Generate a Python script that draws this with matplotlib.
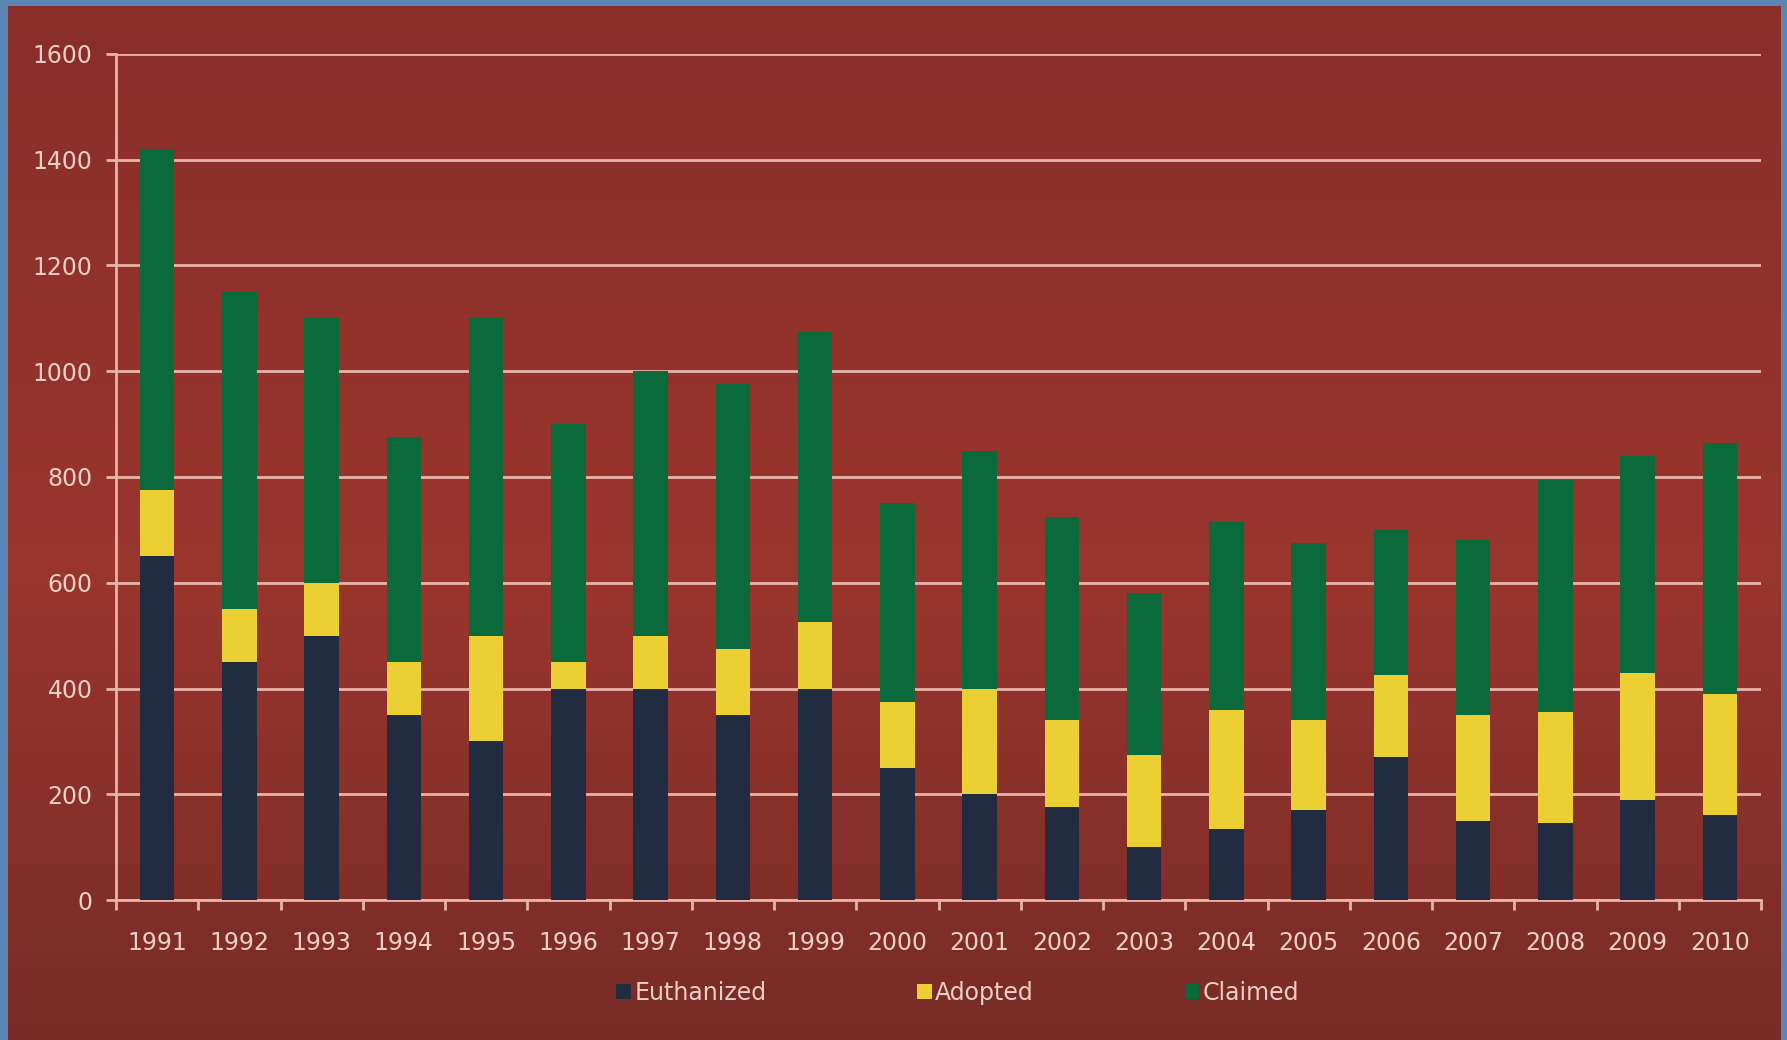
import matplotlib.pyplot as plt
import numpy as np

# data
years = ['1991', '1992', '1993', '1994', '1995', '1996', '1997', '1998', '1999', '2000',
         '2001', '2002', '2003', '2004', '2005', '2006', '2007', '2008', '2009', '2010']
euthanized = [650, 450, 500, 350, 300, 400, 400, 350, 400, 250,
              200, 175, 100, 135, 170, 270, 150, 145, 190, 160]
adopted = [125, 100, 100, 100, 200, 50, 100, 125, 125, 125,
           200, 165, 175, 225, 170, 155, 200, 210, 240, 230]
claimed = [645, 600, 500, 425, 600, 450, 500, 500, 550, 375,
           450, 385, 305, 355, 335, 275, 330, 440, 410, 475]
yticks = [0, 200, 400, 600, 800, 1000, 1200, 1400, 1600]

txt_col = '#f2cfc6'
grid_col = '#e8b4aa'

fig = plt.figure(figsize=(17.87, 10.40), dpi=100, facecolor='#5b87b6')

# red slide panel with a soft vertical gradient
bg = fig.add_axes([8 / 1787, 0, 1772 / 1787, 1034 / 1040])
grad = np.linspace(0, 1, 256)
top = np.array([0.54, 0.18, 0.16])
mid = np.array([0.60, 0.21, 0.18])
bot = np.array([0.47, 0.17, 0.15])
cols = np.where(grad[:, None] < 0.55,
                top + (mid - top) * (grad[:, None] / 0.55),
                mid + (bot - mid) * ((grad[:, None] - 0.55) / 0.45))
bg.imshow(cols[:, None, :].repeat(4, axis=1), aspect='auto', extent=[0, 1, 0, 1])
bg.axis('off')

ax = fig.add_axes([116 / 1787, 140 / 1040, 1645 / 1787, 846 / 1040])
ax.set_facecolor('none')

idx = np.arange(len(years))
w = 0.42
b1 = ax.bar(idx, euthanized, w, color='#222c40', zorder=3, label='Euthanized')
bottom2 = np.array(euthanized)
b2 = ax.bar(idx, adopted, w, bottom=bottom2, color='#ecd033', zorder=3, label='Adopted')
bottom3 = bottom2 + np.array(adopted)
b3 = ax.bar(idx, claimed, w, bottom=bottom3, color='#0a6a3c', zorder=3, label='Claimed')

ax.set_xlim(-0.5, len(years) - 0.5)
ax.set_ylim(0, 1600)
ax.set_yticks(yticks)
ax.set_xticks(idx)
ax.set_xticklabels(years)
ax.set_xticks(np.arange(-0.5, len(years)), minor=True)
ax.yaxis.grid(True, color=grid_col, lw=2, zorder=1)
ax.set_axisbelow(True)

for s in ['top', 'right']:
    ax.spines[s].set_visible(False)
for s in ['left', 'bottom']:
    ax.spines[s].set_color(grid_col)
    ax.spines[s].set_linewidth(2)

ax.tick_params(axis='x', which='major', length=0, pad=22, labelsize=17, labelcolor=txt_col)
ax.tick_params(axis='x', which='minor', length=7, width=2, color=grid_col)
ax.tick_params(axis='y', length=7, width=2, color=grid_col, pad=10,
               labelsize=17, labelcolor=txt_col)

leg = fig.legend(handles=[b1, b2, b3], loc='center', bbox_to_anchor=(0.536, 0.045),
                 ncol=3, frameon=False, fontsize=17, handlelength=0.6, handleheight=0.6,
                 handletextpad=0.15, columnspacing=6.4)
for t in leg.get_texts():
    t.set_color(txt_col)

plt.savefig('out.png', dpi=100, facecolor=fig.get_facecolor())
